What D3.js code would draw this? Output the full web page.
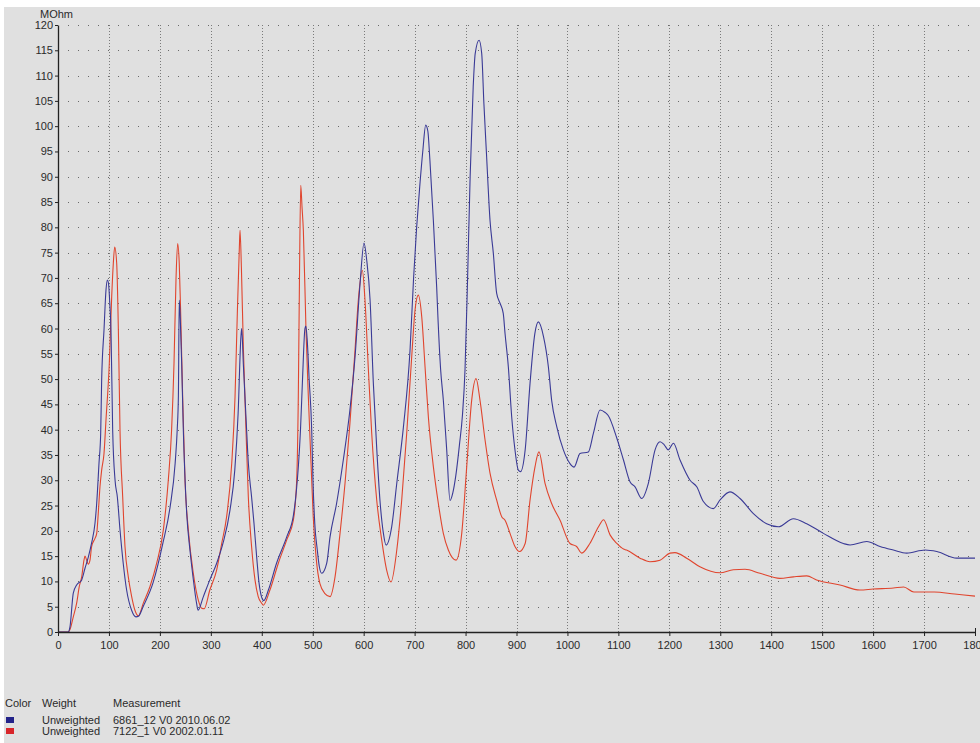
<!DOCTYPE html>
<html>
<head>
<meta charset="utf-8">
<script src="https://cdn.jsdelivr.net/npm/d3@7"></script>
<style>
  html, body { margin: 0; padding: 0; background: #ffffff; }
  svg { display: block; }
  text { font-family: "Liberation Sans", Arial, sans-serif; font-size: 11px; fill: #2a2a2a; }
</style>
</head>
<body>
<svg id="chart" width="980" height="743"></svg>
<script>
// ---------------- DATA ----------------
const yUnit = "MOhm";
const xTicks = [0,100,200,300,400,500,600,700,800,900,1000,1100,1200,1300,1400,1500,1600,1700,1800];
const yTicks = [0,5,10,15,20,25,30,35,40,45,50,55,60,65,70,75,80,85,90,95,100,105,110,115,120];

const seriesNames = ["6861_12 V0 2010.06.02", "7122_1 V0 2002.01.11"];
const seriesWeights = ["Unweighted", "Unweighted"];
const seriesColors = ["#3a3a96", "#e0452e"];
const legendSwatch = ["#23238a", "#d8252a"];

const blueX = [0,20,23.5,30,36.6,46.5,53,59.5,66,72.6,76,80.5,83.8,85.7,90.3,94.2,96.8,99,102,104,107.3,112,116.5,121.7,128,134.7,144.5,153,158,167,186.5,206,220,230,234,236.3,238,240,242.8,246,252.6,259,265,272,275,285,298,311.5,324,337.6,347,353.6,359,360.6,363.8,369,373.6,380,384.7,390,394.6,399.7,404,413,429,449,462,468,472,476,480,484.7,486.5,489,493,498,500.5,504,509,513,517.7,527.5,534,547,560,573,583,593,600.7,606,612.6,619,625.8,632,638.6,644,655,665,678,691,698,704,710,716,721.8,726,730,736.8,743.3,746,751,756.4,763,769.5,775,781,788,794,799,804,809,815,819,826.5,831.7,836,841,848,854.5,861,867.7,874,877.5,884,890.6,897,903.6,908,917,926.6,936,943,953,962.6,969,979,992,1005,1013,1024.7,1041,1051,1064,1074,1080,1097,1110,1122.8,1132.7,1145.8,1158.8,1172,1181.8,1190,1198,1208,1221,1240.7,1253.8,1266.8,1286.4,1299.6,1319,1338.8,1365,1391,1414,1443.5,1469.7,1502.4,1541.6,1554.7,1587.5,1613.6,1639.7,1666,1702,1725,1764,1800];
const blueY = [0,0,1,7.7,9.3,10.3,12.6,14.8,17.6,21.5,25.5,33.4,39.3,49.8,59.7,67.6,69.6,69,64.3,59.7,40,30,26.7,20.2,13.6,8.3,4.3,3.0,3.1,5,9.7,17.6,24.7,33.4,40,46.5,65.6,62,53,40,23.5,16.2,10.9,5.7,4.3,6.9,10.3,13.6,17.6,24.1,32,43.3,58.3,60,53,42.5,33.4,26.7,21.5,14.8,9.7,6.9,6.2,8.3,13.6,18.8,23,28,33,40,50,60,60.5,58,50,40,30,21.5,16.2,12.9,11.6,13.6,18.8,25.5,34,43.9,54.3,69,76.9,73.5,65.6,49.2,36,26,19.6,17.2,20.8,29.4,40.5,55.7,70,80,88,95,100.2,99,93.3,81.4,68.2,61.7,52,45.8,36,26,27.5,31,37,43,52,70,90,107.8,114.4,117,114.4,104.5,94.7,81.4,74.9,67,65,63,59,52.4,42.5,36,32,31.7,36,49.2,59,61.3,58.4,52.4,45.8,40.6,36,33.3,32.6,35.3,35.6,39.3,43.9,43.4,42.8,38.3,34,29.7,28.7,26.4,29.4,36,37.6,37,36,37.3,34,30,28.7,25.8,24.4,26.1,27.7,26.4,23.4,21.4,20.8,22.4,21.4,19.5,17.5,17.2,17.9,16.9,16.2,15.6,16.2,15.9,14.6,14.6];

const redX = [0,20,23.5,30,36.6,41.8,46.5,51,53,56.3,59.5,62.8,66,72.6,76,79,82.4,85.7,90.3,94.2,100.7,105.4,108.6,111.3,115.2,118.5,121.7,127,131.5,138,144.6,151,157.6,167.5,180.6,193.7,206.8,216.5,223,227.7,231.6,234.9,238,240.8,244.7,249.3,255.8,265.6,275.4,282,287,298,311.5,321.3,331,341,347.5,352,356,357.3,360,363.8,369,373.6,380,386.7,393,399.7,403,416,432.5,449,462,468.5,471.7,474,476.5,479,481.6,486.8,491.4,496.7,501,506.5,514,524,534,543.8,553.6,563.4,573,583,589.5,597.4,602.6,609,615.8,625.6,635.4,645,653.7,665,674.7,684.5,694.3,700.8,707.3,714,720.5,727,736.8,746.6,756.4,766.2,781.3,792.5,802.3,812,820.6,828.4,838.2,848,861,871,877.5,887.3,897,905.7,917,926.6,936.4,944,956,969,985.5,1005,1018,1028,1044,1061,1071,1083.6,1097,1110,1116,1142.5,1162,1181.8,1201.4,1211,1234,1260,1299.6,1325.6,1348.6,1378,1417,1443.5,1469.7,1489,1535,1574,1600,1640,1660,1680,1720,1760,1800];
const redY = [0,0,0.5,3,5.7,9,10.9,14.2,15,14.2,13.4,14.2,16.9,18.5,19.5,23.4,28.7,32,35.3,41.9,53.1,66.3,72.9,76.1,72.9,59.7,40,26.7,16.9,10.9,7,4.3,3.2,5.7,9,13.6,20.2,30,40,53.1,69.6,76.8,72.9,63,46.5,30,20.2,11.6,6.3,4.7,4.6,8.3,12.3,17.5,22.8,33.3,46.5,63,76.1,79.4,72,56.4,40,26.7,16.9,10.3,7,5.7,5.3,8.3,13.6,18.2,22.1,30,46.5,70,88.3,84,79.4,59.7,46.5,33.3,22.8,14.9,9.6,7.6,7,10.9,19.5,29.4,41.2,55.7,65.6,71.5,65.6,52.4,39.3,26.1,18.2,12.3,9.9,16.2,26.1,39.3,54.4,63.6,66.6,62.3,52.4,42.5,32.7,25.4,19.5,16.2,14.2,19.5,32.7,45.8,50.1,45.8,38,31.4,26.1,22.8,22.1,19.5,16.9,15.9,17.5,26.1,32.7,35.6,29.4,25.4,22.1,17.5,16.9,15.6,17.5,20.8,22.2,19.2,17.5,16.4,16.2,14.6,13.9,14.2,15.6,15.7,14.6,12.9,11.7,12.3,12.4,11.6,10.6,10.9,11.1,10.3,9.3,8.3,8.5,8.7,8.9,7.9,7.9,7.5,7.1];

// ---------------- CHART ----------------
const svg = d3.select("#chart");
const W = 980, H = 743;

svg.append("rect").attr("x", 0).attr("y", 0).attr("width", W).attr("height", H).attr("fill", "#ffffff");
svg.append("rect").attr("x", 4).attr("y", 7).attr("width", W - 4).attr("height", H - 7).attr("fill", "#e0e0e0");

const x = d3.scaleLinear().domain([0, 1800]).range([58, 975]);
const y = d3.scaleLinear().domain([0, 120]).range([632, 25]);

const grid = svg.append("g");
grid.selectAll("line.h").data(yTicks.filter(v => v > 0)).join("line")
  .attr("x1", x(0) + 10).attr("x2", x(1800))
  .attr("y1", d => Math.round(y(d)) + 0.5).attr("y2", d => Math.round(y(d)) + 0.5)
  .attr("stroke", "#6a6a6a").attr("stroke-width", 1)
  .attr("stroke-dasharray", "1,9");
grid.selectAll("line.v").data(xTicks.filter(v => v > 0 && v < 1800)).join("line")
  .attr("x1", d => Math.round(x(d)) + 0.5).attr("x2", d => Math.round(x(d)) + 0.5)
  .attr("y1", y(120)).attr("y2", y(0))
  .attr("stroke", "#7a7a7a").attr("stroke-width", 1)
  .attr("stroke-dasharray", "1,2");

const blue = blueX.map((v, i) => [v, blueY[i]]);
const red = redX.map((v, i) => [v, redY[i]]);
const line = d3.line().x(d => x(d[0])).y(d => y(d[1])).curve(d3.curveMonotoneX);
svg.append("path").datum(red).attr("d", line)
  .attr("fill", "none").attr("stroke", seriesColors[1]).attr("stroke-width", 1.1);
svg.append("path").datum(blue).attr("d", line)
  .attr("fill", "none").attr("stroke", seriesColors[0]).attr("stroke-width", 1.1);

const xAxis = d3.axisBottom(x).tickValues(xTicks).tickSize(4).tickSizeOuter(0).tickFormat(d3.format("d"));
const gx = svg.append("g").attr("transform", `translate(0,${y(0)})`).call(xAxis);
gx.select(".domain").attr("stroke", "#222").attr("stroke-width", 1.3);
gx.selectAll(".tick line").attr("stroke", "#222");
gx.selectAll(".tick text").attr("dy", "0.95em").style("font-size", "11px").style("fill", "#2a2a2a")
  .style("font-family", '"Liberation Sans", Arial, sans-serif');
svg.append("line").attr("x1", x(1800) + 0.5).attr("x2", x(1800) + 0.5)
  .attr("y1", y(0) - 4).attr("y2", y(0) + 4).attr("stroke", "#222");

const yAxis = d3.axisLeft(y).tickValues(yTicks).tickSize(3).tickSizeOuter(0).tickFormat(d3.format("d"));
const gy = svg.append("g").attr("transform", `translate(${x(0)},0)`).call(yAxis);
gy.select(".domain").attr("stroke", "#222").attr("stroke-width", 1.3);
gy.selectAll(".tick line").attr("stroke", "#222");
gy.selectAll(".tick text").attr("x", -5).style("font-size", "11px").style("fill", "#2a2a2a")
  .style("font-family", '"Liberation Sans", Arial, sans-serif');

svg.append("text").attr("x", 40).attr("y", 18).text(yUnit);

const lg = svg.append("g");
lg.append("text").attr("x", 5).attr("y", 707).text("Color");
lg.append("text").attr("x", 42).attr("y", 707).text("Weight");
lg.append("text").attr("x", 113).attr("y", 707).text("Measurement");
seriesNames.forEach((name, i) => {
  const yy = 724 + i * 11;
  lg.append("rect").attr("x", 6).attr("y", yy - 7).attr("width", 8).attr("height", 6).attr("fill", legendSwatch[i]);
  lg.append("text").attr("x", 42).attr("y", yy).text(seriesWeights[i]);
  lg.append("text").attr("x", 113).attr("y", yy).text(name);
});
</script>
</body>
</html>
